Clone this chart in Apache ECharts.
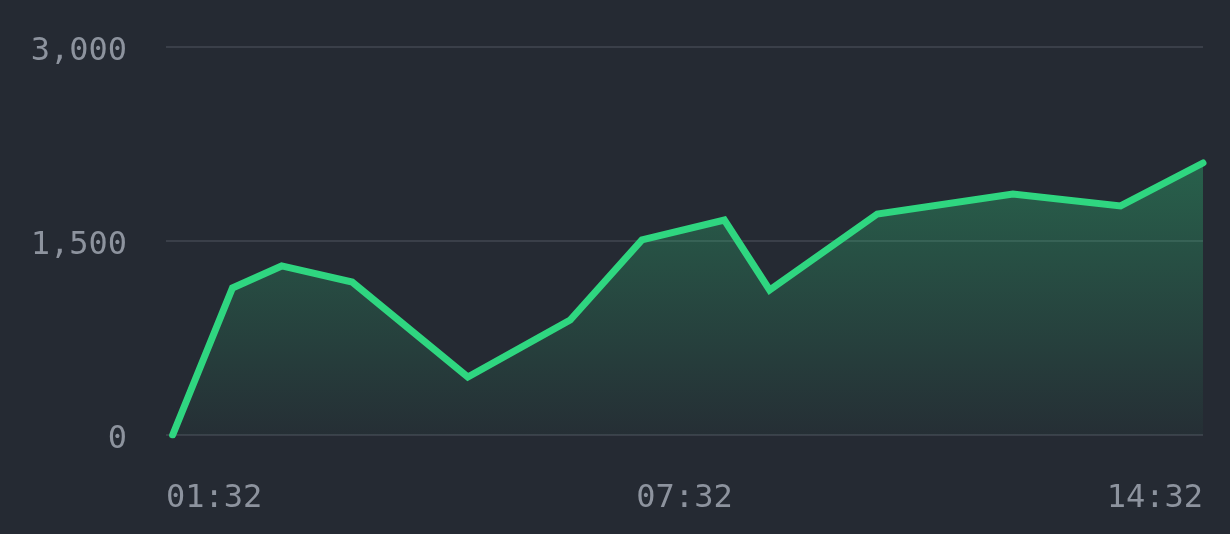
<!DOCTYPE html>
<html>
<head>
<meta charset="utf-8">
<script src="https://cdn.jsdelivr.net/npm/echarts@6/dist/echarts.min.js"></script>
<style>
  html, body { margin: 0; padding: 0; background: #252a33; }
  #chart { width: 1230px; height: 534px; }
</style>
</head>
<body>
<div id="chart"></div>
<script>
// minutes after 01:32
const times = [5, 50, 87, 140, 227, 304, 358, 420, 454, 535, 637, 718, 780];
const values = [0, 1137, 1307, 1183, 448, 889, 1508, 1662, 1121, 1709, 1863, 1771, 2103];
const xTickLabels = ['01:32', '07:32', '14:32'];

const labelFont = {
    color: '#8d939e',
    fontFamily: 'DejaVu Sans Mono',
    fontSize: 32,
};

let myChart = echarts.init(document.getElementById('chart'));
myChart.setOption({
    backgroundColor: '#252a33',
    animation: false,
    grid: {
        left: 166,
        right: 27,
        top: 47,
        bottom: 99,
    },
    xAxis: {
        type: 'value',
        min: 0,
        max: 780,
        interval: 390,
        axisLine: { show: false },
        axisTick: { show: false },
        splitLine: { show: false },
        axisLabel: Object.assign({
            margin: 48,
            alignMinLabel: 'left',
            alignMaxLabel: 'right',
            formatter: function (v) {
                return xTickLabels[Math.round(v / 390)];
            }
        }, labelFont),
    },
    yAxis: {
        type: 'value',
        min: 0,
        max: 3000,
        interval: 1500,
        axisLine: { show: false },
        axisTick: { show: false },
        splitLine: {
            lineStyle: { color: '#3a3f49', width: 2 }
        },
        axisLabel: Object.assign({
            margin: 39,
            formatter: function (v) {
                return '{n|' + v.toLocaleString('en-US') + '}';
            },
            rich: {
                n: Object.assign({ padding: [9, 0, 0, 0] }, labelFont)
            }
        }, labelFont),
    },
    series: [{
        type: 'line',
        data: times.map((t, i) => [t, values[i]]),
        showSymbol: false,
        lineStyle: {
            color: '#2fd680',
            width: 7,
            cap: 'round',
            join: 'miter',
        },
        areaStyle: {
            color: new echarts.graphic.LinearGradient(0, 0, 0, 1, [
                { offset: 0, color: 'rgba(46, 212, 127, 0.46)' },
                { offset: 1, color: 'rgba(46, 212, 127, 0.04)' },
            ]),
        },
    }]
});
</script>
</body>
</html>
